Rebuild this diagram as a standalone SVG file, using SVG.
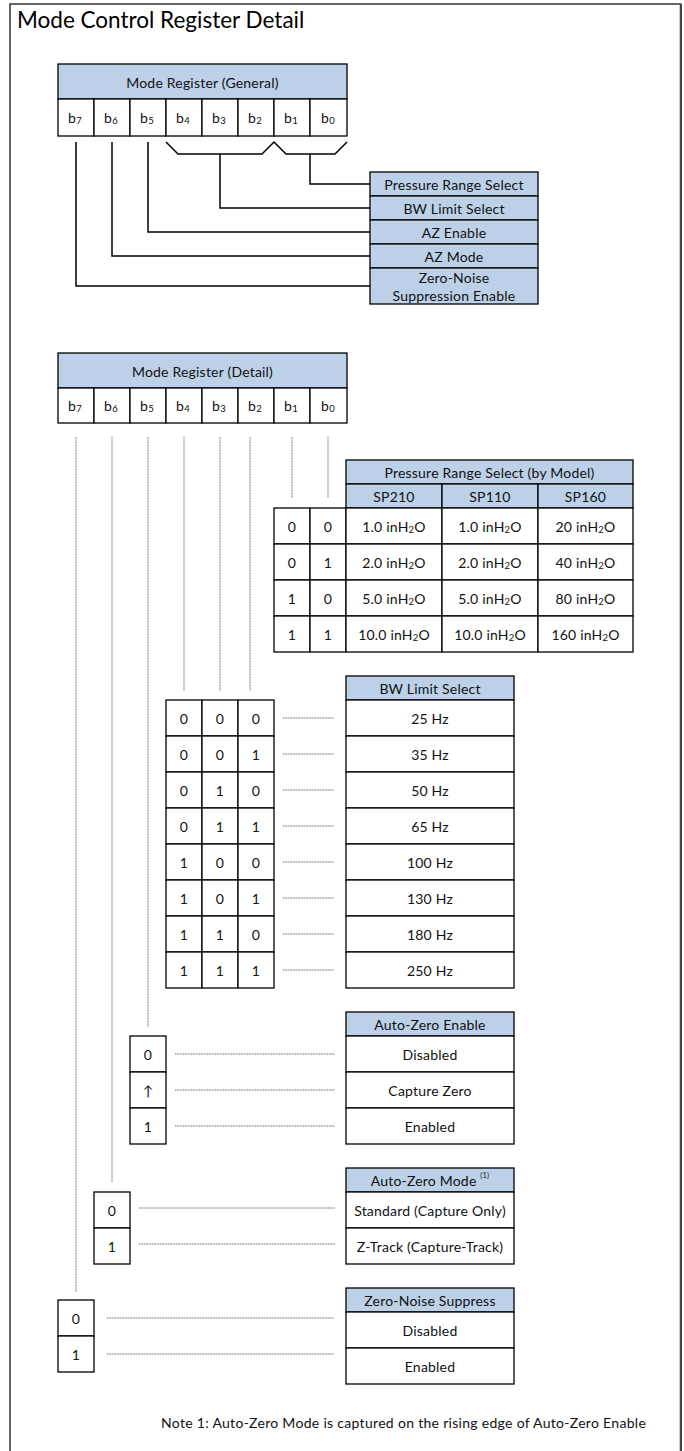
<svg xmlns="http://www.w3.org/2000/svg" width="684" height="1451" viewBox="0 0 684 1451">
<style>
.box{fill:#fff;stroke:#000;stroke-width:1.3}
.hdr{fill:#BCD0E8;stroke:#000;stroke-width:1.3}
.t{font-family:Lato,"Open Sans","Liberation Sans",sans-serif;font-weight:400;font-size:14px;fill:#111;text-anchor:middle;dominant-baseline:central;letter-spacing:0.2px}
.s{font-size:9.5px}
.wire{stroke:#000;stroke-width:1.5;fill:none}
.dot{stroke:#666;stroke-width:1;stroke-dasharray:1 0.6;fill:none}
</style>
<rect x="0" y="0" width="684" height="1451" fill="#fff"/>
<rect x="10" y="4" width="670.5" height="1460" fill="none" stroke="#333" stroke-width="1.5"/>
<line x1="681" y1="4" x2="681" y2="1451" stroke="#444" stroke-width="2"/>
<text x="17" y="28" font-family="Lato,'Open Sans','Liberation Sans',sans-serif" font-weight="400" font-size="22.5" fill="#000">Mode Control Register Detail</text>

<g id="connectors">
  <path class="wire" d="M166,142 L178,154 L262,154 L274,142 L286,154 L335,154 L347,142"/>
  <path class="wire" d="M220,154 V208 H370"/>
  <path class="wire" d="M310,154 V184 H370"/>
  <path class="wire" d="M148,142 V232 H370"/>
  <path class="wire" d="M112,142 V256 H370"/>
  <path class="wire" d="M76,142 V286 H370"/>
  <path class="dot" d="M76,437 V1292 M112,437 V1182 M148,437 V1027 M184,437 V691 M220,437 V691 M250,437 V691 M292,437 V498 M328,437 V498"/>
  <path class="dot" d="M283,718 H334 M283,754 H334 M283,790 H334 M283,826 H334 M283,862 H334 M283,898 H334 M283,934 H334 M283,970 H334"/>
  <path class="dot" d="M175,1054 H335 M175,1090 H335 M175,1126 H335"/>
  <path class="dot" d="M139,1208 H335 M139,1244 H335"/>
  <path class="dot" d="M107,1318 H334 M107,1354 H334"/>
</g>

<g id="reg-general">
  <rect class="hdr" x="58" y="64" width="289" height="35"/>
  <text class="t" x="202.5" y="82">Mode Register (General)</text>
  <rect class="box" x="58" y="99" width="36" height="37"/>
  <rect class="box" x="94" y="99" width="36" height="37"/>
  <rect class="box" x="130" y="99" width="36" height="37"/>
  <rect class="box" x="166" y="99" width="36" height="37"/>
  <rect class="box" x="202" y="99" width="36" height="37"/>
  <rect class="box" x="238" y="99" width="36" height="37"/>
  <rect class="box" x="274" y="99" width="36" height="37"/>
  <rect class="box" x="310" y="99" width="37" height="37"/>
  <text class="t" x="75" y="117">b<tspan class="s" dy="3">7</tspan></text>
  <text class="t" x="111" y="117">b<tspan class="s" dy="3">6</tspan></text>
  <text class="t" x="147" y="117">b<tspan class="s" dy="3">5</tspan></text>
  <text class="t" x="183" y="117">b<tspan class="s" dy="3">4</tspan></text>
  <text class="t" x="219" y="117">b<tspan class="s" dy="3">3</tspan></text>
  <text class="t" x="255" y="117">b<tspan class="s" dy="3">2</tspan></text>
  <text class="t" x="291" y="117">b<tspan class="s" dy="3">1</tspan></text>
  <text class="t" x="328" y="117">b<tspan class="s" dy="3">0</tspan></text>
</g>

<g id="labels-general">
  <rect class="hdr" x="370" y="172" width="168" height="24"/>
  <text class="t" x="454" y="184">Pressure Range Select</text>
  <rect class="hdr" x="370" y="196" width="168" height="24"/>
  <text class="t" x="454" y="208">BW Limit Select</text>
  <rect class="hdr" x="370" y="220" width="168" height="24"/>
  <text class="t" x="454" y="232">AZ Enable</text>
  <rect class="hdr" x="370" y="244" width="168" height="24"/>
  <text class="t" x="454" y="256">AZ Mode</text>
  <rect class="hdr" x="370" y="268" width="168" height="36"/>
  <text class="t" x="454" y="277.5">Zero-Noise</text>
  <text class="t" x="454" y="295">Suppression Enable</text>
</g>

<g id="reg-detail">
  <rect class="hdr" x="58" y="353" width="289" height="35"/>
  <text class="t" x="202.5" y="371">Mode Register (Detail)</text>
  <rect class="box" x="58" y="388" width="36" height="35"/>
  <rect class="box" x="94" y="388" width="36" height="35"/>
  <rect class="box" x="130" y="388" width="36" height="35"/>
  <rect class="box" x="166" y="388" width="36" height="35"/>
  <rect class="box" x="202" y="388" width="36" height="35"/>
  <rect class="box" x="238" y="388" width="36" height="35"/>
  <rect class="box" x="274" y="388" width="36" height="35"/>
  <rect class="box" x="310" y="388" width="37" height="35"/>
  <text class="t" x="75" y="405">b<tspan class="s" dy="3">7</tspan></text>
  <text class="t" x="111" y="405">b<tspan class="s" dy="3">6</tspan></text>
  <text class="t" x="147" y="405">b<tspan class="s" dy="3">5</tspan></text>
  <text class="t" x="183" y="405">b<tspan class="s" dy="3">4</tspan></text>
  <text class="t" x="219" y="405">b<tspan class="s" dy="3">3</tspan></text>
  <text class="t" x="255" y="405">b<tspan class="s" dy="3">2</tspan></text>
  <text class="t" x="291" y="405">b<tspan class="s" dy="3">1</tspan></text>
  <text class="t" x="328" y="405">b<tspan class="s" dy="3">0</tspan></text>
</g>

<g id="pressure-table">
  <rect class="hdr" x="346" y="460" width="287" height="24"/>
  <text class="t" x="489.5" y="472">Pressure Range Select (by Model)</text>
  <rect class="hdr" x="346" y="484" width="96" height="24"/>
  <rect class="hdr" x="442" y="484" width="96" height="24"/>
  <rect class="hdr" x="538" y="484" width="95" height="24"/>
  <text class="t" x="394" y="496">SP210</text>
  <text class="t" x="490" y="496">SP110</text>
  <text class="t" x="585.5" y="496">SP160</text>
  <rect class="box" x="274" y="508" width="36" height="36"/><rect class="box" x="310" y="508" width="36" height="36"/>
  <rect class="box" x="346" y="508" width="96" height="36"/><rect class="box" x="442" y="508" width="96" height="36"/><rect class="box" x="538" y="508" width="95" height="36"/>
  <rect class="box" x="274" y="544" width="36" height="36"/><rect class="box" x="310" y="544" width="36" height="36"/>
  <rect class="box" x="346" y="544" width="96" height="36"/><rect class="box" x="442" y="544" width="96" height="36"/><rect class="box" x="538" y="544" width="95" height="36"/>
  <rect class="box" x="274" y="580" width="36" height="36"/><rect class="box" x="310" y="580" width="36" height="36"/>
  <rect class="box" x="346" y="580" width="96" height="36"/><rect class="box" x="442" y="580" width="96" height="36"/><rect class="box" x="538" y="580" width="95" height="36"/>
  <rect class="box" x="274" y="616" width="36" height="36"/><rect class="box" x="310" y="616" width="36" height="36"/>
  <rect class="box" x="346" y="616" width="96" height="36"/><rect class="box" x="442" y="616" width="96" height="36"/><rect class="box" x="538" y="616" width="95" height="36"/>
  <text class="t" x="292" y="526">0</text><text class="t" x="328" y="526">0</text>
  <text class="t" x="292" y="562">0</text><text class="t" x="328" y="562">1</text>
  <text class="t" x="292" y="598">1</text><text class="t" x="328" y="598">0</text>
  <text class="t" x="292" y="634">1</text><text class="t" x="328" y="634">1</text>
  <text class="t" x="394" y="526">1.0 inH<tspan class="s" dy="3">2</tspan><tspan dy="-3">O</tspan></text>
  <text class="t" x="490" y="526">1.0 inH<tspan class="s" dy="3">2</tspan><tspan dy="-3">O</tspan></text>
  <text class="t" x="585.5" y="526">20 inH<tspan class="s" dy="3">2</tspan><tspan dy="-3">O</tspan></text>
  <text class="t" x="394" y="562">2.0 inH<tspan class="s" dy="3">2</tspan><tspan dy="-3">O</tspan></text>
  <text class="t" x="490" y="562">2.0 inH<tspan class="s" dy="3">2</tspan><tspan dy="-3">O</tspan></text>
  <text class="t" x="585.5" y="562">40 inH<tspan class="s" dy="3">2</tspan><tspan dy="-3">O</tspan></text>
  <text class="t" x="394" y="598">5.0 inH<tspan class="s" dy="3">2</tspan><tspan dy="-3">O</tspan></text>
  <text class="t" x="490" y="598">5.0 inH<tspan class="s" dy="3">2</tspan><tspan dy="-3">O</tspan></text>
  <text class="t" x="585.5" y="598">80 inH<tspan class="s" dy="3">2</tspan><tspan dy="-3">O</tspan></text>
  <text class="t" x="394" y="634">10.0 inH<tspan class="s" dy="3">2</tspan><tspan dy="-3">O</tspan></text>
  <text class="t" x="490" y="634">10.0 inH<tspan class="s" dy="3">2</tspan><tspan dy="-3">O</tspan></text>
  <text class="t" x="585.5" y="634">160 inH<tspan class="s" dy="3">2</tspan><tspan dy="-3">O</tspan></text>
</g>

<g id="bw-bits">
  <rect class="box" x="166" y="700" width="36" height="36"/><rect class="box" x="202" y="700" width="36" height="36"/><rect class="box" x="238" y="700" width="36" height="36"/>
  <rect class="box" x="166" y="736" width="36" height="36"/><rect class="box" x="202" y="736" width="36" height="36"/><rect class="box" x="238" y="736" width="36" height="36"/>
  <rect class="box" x="166" y="772" width="36" height="36"/><rect class="box" x="202" y="772" width="36" height="36"/><rect class="box" x="238" y="772" width="36" height="36"/>
  <rect class="box" x="166" y="808" width="36" height="36"/><rect class="box" x="202" y="808" width="36" height="36"/><rect class="box" x="238" y="808" width="36" height="36"/>
  <rect class="box" x="166" y="844" width="36" height="36"/><rect class="box" x="202" y="844" width="36" height="36"/><rect class="box" x="238" y="844" width="36" height="36"/>
  <rect class="box" x="166" y="880" width="36" height="36"/><rect class="box" x="202" y="880" width="36" height="36"/><rect class="box" x="238" y="880" width="36" height="36"/>
  <rect class="box" x="166" y="916" width="36" height="36"/><rect class="box" x="202" y="916" width="36" height="36"/><rect class="box" x="238" y="916" width="36" height="36"/>
  <rect class="box" x="166" y="952" width="36" height="36"/><rect class="box" x="202" y="952" width="36" height="36"/><rect class="box" x="238" y="952" width="36" height="36"/>
  <text class="t" x="184" y="718">0</text><text class="t" x="220" y="718">0</text><text class="t" x="256" y="718">0</text>
  <text class="t" x="184" y="754">0</text><text class="t" x="220" y="754">0</text><text class="t" x="256" y="754">1</text>
  <text class="t" x="184" y="790">0</text><text class="t" x="220" y="790">1</text><text class="t" x="256" y="790">0</text>
  <text class="t" x="184" y="826">0</text><text class="t" x="220" y="826">1</text><text class="t" x="256" y="826">1</text>
  <text class="t" x="184" y="862">1</text><text class="t" x="220" y="862">0</text><text class="t" x="256" y="862">0</text>
  <text class="t" x="184" y="898">1</text><text class="t" x="220" y="898">0</text><text class="t" x="256" y="898">1</text>
  <text class="t" x="184" y="934">1</text><text class="t" x="220" y="934">1</text><text class="t" x="256" y="934">0</text>
  <text class="t" x="184" y="970">1</text><text class="t" x="220" y="970">1</text><text class="t" x="256" y="970">1</text>
</g>

<g id="bw-table">
  <rect class="hdr" x="346" y="676" width="168" height="24"/>
  <text class="t" x="430" y="688">BW Limit Select</text>
  <rect class="box" x="346" y="700" width="168" height="36"/>
  <rect class="box" x="346" y="736" width="168" height="36"/>
  <rect class="box" x="346" y="772" width="168" height="36"/>
  <rect class="box" x="346" y="808" width="168" height="36"/>
  <rect class="box" x="346" y="844" width="168" height="36"/>
  <rect class="box" x="346" y="880" width="168" height="36"/>
  <rect class="box" x="346" y="916" width="168" height="36"/>
  <rect class="box" x="346" y="952" width="168" height="36"/>
  <text class="t" x="430" y="718">25 Hz</text>
  <text class="t" x="430" y="754">35 Hz</text>
  <text class="t" x="430" y="790">50 Hz</text>
  <text class="t" x="430" y="826">65 Hz</text>
  <text class="t" x="430" y="862">100 Hz</text>
  <text class="t" x="430" y="898">130 Hz</text>
  <text class="t" x="430" y="934">180 Hz</text>
  <text class="t" x="430" y="970">250 Hz</text>
</g>

<g id="az-enable-bits">
  <rect class="box" x="130" y="1036" width="36" height="36"/>
  <rect class="box" x="130" y="1072" width="36" height="36"/>
  <rect class="box" x="130" y="1108" width="36" height="36"/>
  <text class="t" x="148" y="1054">0</text>
  <text class="t" x="148" y="1090">↑</text>
  <text class="t" x="148" y="1126">1</text>
</g>
<g id="az-enable-table">
  <rect class="hdr" x="346" y="1012" width="168" height="24"/>
  <text class="t" x="430" y="1024">Auto-Zero Enable</text>
  <rect class="box" x="346" y="1036" width="168" height="36"/>
  <rect class="box" x="346" y="1072" width="168" height="36"/>
  <rect class="box" x="346" y="1108" width="168" height="36"/>
  <text class="t" x="430" y="1054">Disabled</text>
  <text class="t" x="430" y="1090">Capture Zero</text>
  <text class="t" x="430" y="1126">Enabled</text>
</g>

<g id="az-mode-bits">
  <rect class="box" x="94" y="1192" width="36" height="36"/>
  <rect class="box" x="94" y="1228" width="36" height="36"/>
  <text class="t" x="112" y="1210">0</text>
  <text class="t" x="112" y="1246">1</text>
</g>
<g id="az-mode-table">
  <rect class="hdr" x="346" y="1168" width="168" height="24"/>
  <text class="t" x="430" y="1180">Auto-Zero Mode <tspan font-size="7.5" dy="-5">(1)</tspan></text>
  <rect class="box" x="346" y="1192" width="168" height="36"/>
  <rect class="box" x="346" y="1228" width="168" height="36"/>
  <text class="t" x="430" y="1210">Standard (Capture Only)</text>
  <text class="t" x="430" y="1246">Z-Track (Capture-Track)</text>
</g>

<g id="zn-bits">
  <rect class="box" x="58" y="1300" width="36" height="36"/>
  <rect class="box" x="58" y="1336" width="36" height="36"/>
  <text class="t" x="76" y="1318">0</text>
  <text class="t" x="76" y="1354">1</text>
</g>
<g id="zn-table">
  <rect class="hdr" x="346" y="1288" width="168" height="24"/>
  <text class="t" x="430" y="1300">Zero-Noise Suppress</text>
  <rect class="box" x="346" y="1312" width="168" height="36"/>
  <rect class="box" x="346" y="1348" width="168" height="36"/>
  <text class="t" x="430" y="1330">Disabled</text>
  <text class="t" x="430" y="1366">Enabled</text>
</g>

<g id="note">
  <text class="t" x="403.5" y="1422" textLength="485" lengthAdjust="spacing">Note 1: Auto-Zero Mode is captured on the rising edge of Auto-Zero Enable</text>
</g>
</svg>
